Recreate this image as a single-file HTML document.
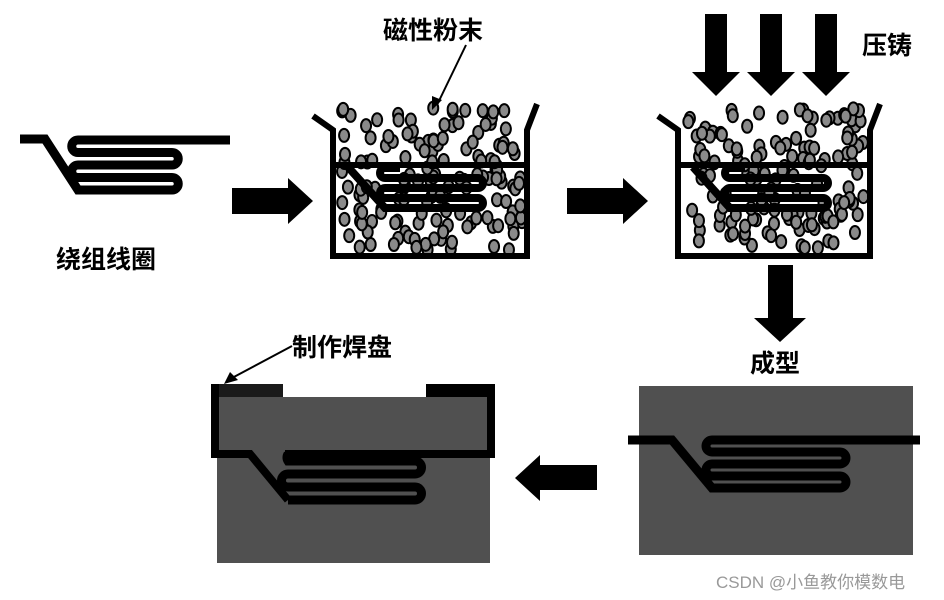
<!DOCTYPE html>
<html><head><meta charset="utf-8"><style>
body{margin:0;background:#fff;width:944px;height:600px;overflow:hidden}
svg{display:block}
text{font-family:"Liberation Sans","Noto Sans CJK SC",sans-serif;font-weight:bold}
</style></head><body>
<svg id="s" width="944" height="600" viewBox="0 0 944 600">
<!-- coil 1 -->
<path fill="none" stroke="#000" stroke-width="9" d="M20,139 H45 L78,190 H172 A6.25,6.25 0 0 0 172,177.5 H78 A6.25,6.25 0 0 1 78,165 H172 A6.25,6.25 0 0 0 172,152.5 H78 A6.25,6.25 0 0 1 78,140 H230"/>
<text x="56" y="268" font-size="25">绕组线圈</text>
<!-- arrows -->
<polygon points="232,188 288,188 288,178 313,201 288,224 288,214 232,214" fill="#000"/>
<polygon points="567,188 623,188 623,178 648,201 623,224 623,214 567,214" fill="#000"/>
<polygon points="768,265 793,265 793,318 806,318 780,342 754,318 768,318" fill="#000"/>
<polygon points="597,465 540,465 540,455 515,478 540,501 540,490 597,490" fill="#000"/>
<!-- container 1 -->
<g id="p1"></g>
<g stroke="#000" stroke-width="6" fill="none">
<path d="M313,116 L333,130 V256 H527 V130 L537,104"/>
<line x1="333" y1="165" x2="527" y2="165"/>
</g>
<path fill="none" stroke="#000" stroke-width="8" d="M348,167 L385,208 H478 A5,5 0 0 0 478,198 H385 A5,5 0 0 1 385,188 H478 A5,5 0 0 0 478,178 H385 A5,5 0 0 1 385,168 H400"/>
<text x="383" y="39" font-size="25">磁性粉末</text>
<line x1="466" y1="45" x2="437" y2="105" stroke="#000" stroke-width="2"/>
<polygon points="432,110 432,96 442,100" fill="#000"/>
<!-- container 2 -->
<g id="p2"></g>
<g stroke="#000" stroke-width="6" fill="none">
<path d="M658,116 L678,130 V256 H870 V130 L880,104"/>
<line x1="678" y1="165" x2="870" y2="165"/>
</g>
<path fill="none" stroke="#000" stroke-width="8" d="M693,167 L730,208 H823 A5,5 0 0 0 823,198 H730 A5,5 0 0 1 730,188 H823 A5,5 0 0 0 823,178 H730 A5,5 0 0 1 730,168 H745"/>
<g fill="#000">
<polygon points="705,14 727,14 727,72 740,72 716,96 692,72 705,72"/>
<polygon points="760,14 782,14 782,72 795,72 771,96 747,72 760,72"/>
<polygon points="815,14 837,14 837,72 850,72 826,96 802,72 815,72"/>
</g>
<text x="862" y="54" font-size="25">压铸</text>
<text x="750" y="372" font-size="25">成型</text>
<!-- bottom right -->
<rect x="639" y="386" width="274" height="169" fill="#505050"/>
<path fill="none" stroke="#000" stroke-width="9" d="M628,440 H672 L712,488 H840 A6,6 0 0 0 840,476 H712 A6,6 0 0 1 712,464 H840 A6,6 0 0 0 840,452 H712 A6,6 0 0 1 712,440 H920"/>
<!-- bottom left -->
<rect x="217" y="397" width="273" height="166" fill="#505050"/>
<rect x="213" y="384" width="70" height="13" fill="#1a1a1a"/>
<rect x="426" y="384" width="69" height="13" fill="#000"/>
<g stroke="#000" stroke-width="8" fill="none">
<path d="M215,384 V454 H250 L288,500"/>
<path d="M491,384 V454 H285"/>
</g>
<path fill="none" stroke="#000" stroke-width="9" d="M288,500 H415 A6.5,6.5 0 0 0 415,487 H288 A6.5,6.5 0 0 1 288,474 H415 A6.5,6.5 0 0 0 415,461 H288 A6.5,6.5 0 0 1 288,454"/>
<text x="292" y="356" font-size="25">制作焊盘</text>
<line x1="292" y1="346" x2="232" y2="378" stroke="#000" stroke-width="2"/>
<polygon points="224,384 230,372 238,380" fill="#000"/>
<text x="716" y="588" font-size="17" fill="#999" style="font-weight:normal">CSDN @小鱼教你模数电</text>
</svg>
<script>
(function(){
var seed=11;function r(){seed=(seed*16807)%2147483647;return seed/2147483647;}
var ns="http://www.w3.org/2000/svg";
function fill(id,x0,x1,y0,y1,n){var g=document.getElementById(id);
for(var i=0;i<n;i++){var e=document.createElementNS(ns,"ellipse");
e.setAttribute("cx",x0+r()*(x1-x0));e.setAttribute("cy",y0+r()*(y1-y0));
e.setAttribute("rx",5);e.setAttribute("ry",6.5);e.setAttribute("fill","#8a8a8a");
e.setAttribute("stroke","#000");e.setAttribute("stroke-width","2");g.appendChild(e);}}
fill("p1",342,522,108,250,150);
fill("p2",687,865,108,250,150);
})();
</script>
</body></html>
